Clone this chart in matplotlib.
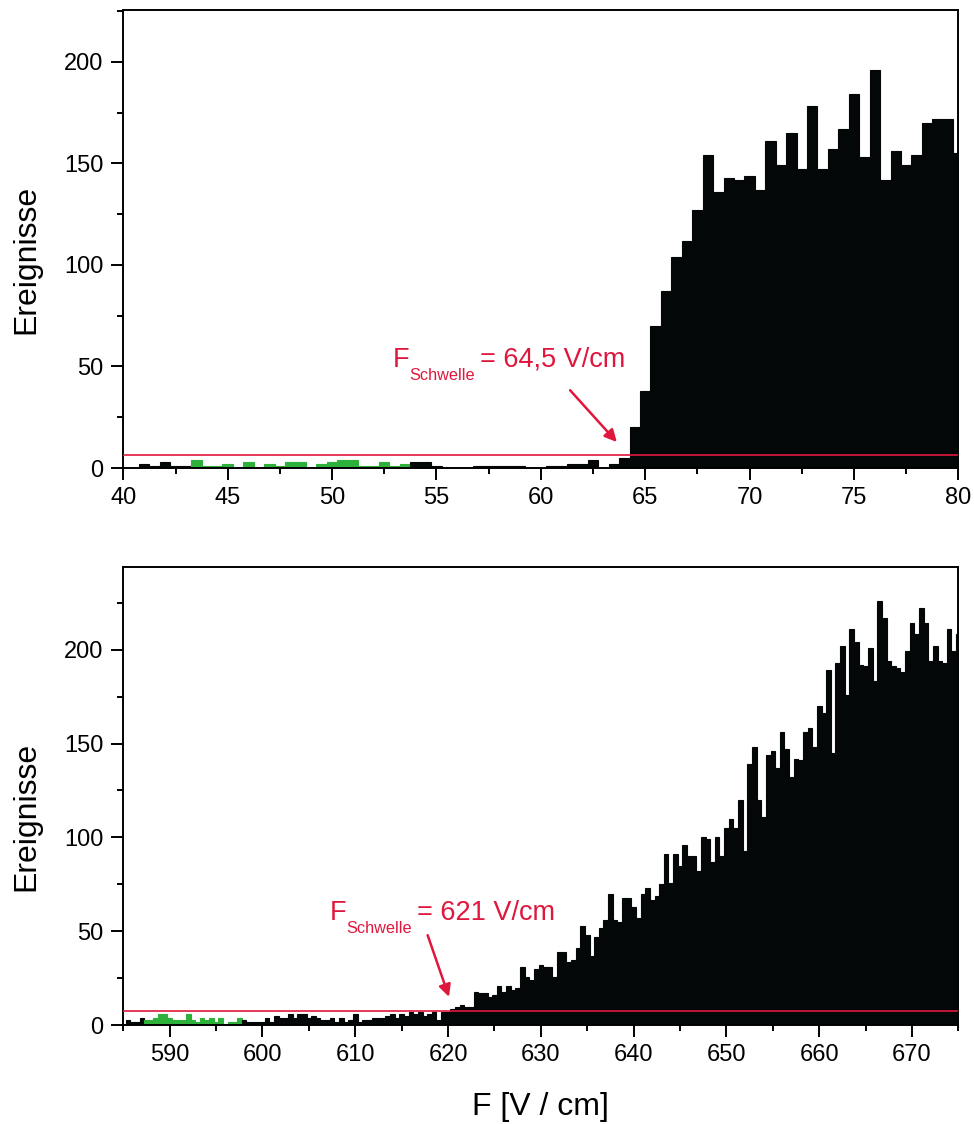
import numpy as np
import matplotlib
matplotlib.use("Agg")
import matplotlib.pyplot as plt
from matplotlib.ticker import MultipleLocator

plt.rcParams["font.family"] = ["Liberation Sans", "DejaVu Sans"]

# upper histogram: bin centres 40.0 ... 80.0 (0.5 V/cm bins)
top_centers = np.arange(40.0, 80.01, 0.5)
top_counts = [
    0, 0, 2, 1, 3, 1, 1, 4, 1, 1,           # 40.0 - 44.5
    2, 0, 3, 0, 2, 1, 3, 3, 0, 2,           # 45.0 - 49.5
    3, 4, 4, 1, 1, 3, 1, 2, 3, 3,           # 50.0 - 54.5
    1, 0, 0, 0, 1, 1, 1, 1, 1, 0,           # 55.0 - 59.5
    0, 1, 1, 2, 2, 4, 0, 2, 5, 20,          # 60.0 - 64.5
    38, 70, 87, 104, 112, 127, 154, 136, 143, 142,   # 65.0 - 69.5
    144, 137, 161, 149, 165, 147, 178, 147, 157, 167,  # 70.0 - 74.5
    184, 153, 196, 142, 156, 149, 154, 170, 172, 172,  # 75.0 - 79.5
    155,                                    # 80.0
]
top_green = (43.5, 53.5)
top_threshold = 6.6
top_value = "= 64,5 V/cm"

# lower histogram: bin centres 585.0 ... 675.0
bot_centers = np.arange(585.0, 675.01, 0.5)
bot_counts = [
    0, 3, 2, 2, 4, 3, 3, 4, 6, 6,           # 585.0 - 589.5
    4, 3, 3, 3, 6, 3, 2, 4, 3, 4,           # 590.0 - 594.5
    2, 4, 1, 2, 2, 4, 3, 2, 2, 2,           # 595.0 - 599.5
    2, 4, 2, 5, 4, 4, 6, 4, 6, 6,           # 600.0 - 604.5
    4, 5, 4, 3, 3, 4, 2, 4, 2, 3,           # 605.0 - 609.5
    6, 2, 3, 3, 4, 4, 4, 5, 6, 4,           # 610.0 - 614.5
    6, 5, 7, 6, 7, 5, 6, 7, 3, 7,           # 615.0 - 619.5
    7, 9, 10, 11, 10, 10, 18, 17, 17, 15,   # 620.0 - 624.5
    16, 21, 18, 21, 19, 20, 31, 26, 24, 30,  # 625.0 - 629.5
    32, 31, 31, 26, 39, 39, 34, 35, 41, 53,  # 630.0 - 634.5
    48, 37, 47, 52, 56, 70, 56, 55, 68, 68,  # 635.0 - 639.5
    63, 57, 70, 73, 67, 69, 75, 91, 76, 91,  # 640.0 - 644.5
    85, 96, 90, 90, 82, 100, 99, 87, 100, 90,  # 645.0 - 649.5
    105, 110, 105, 120, 93, 139, 148, 120, 111, 144,  # 650.0 - 654.5
    146, 137, 156, 147, 132, 142, 141, 156, 158, 148,  # 655.0 - 659.5
    170, 166, 189, 145, 193, 202, 176, 211, 204, 192,  # 660.0 - 664.5
    191, 201, 183, 226, 217, 194, 191, 190, 188, 199,  # 665.0 - 669.5
    214, 208, 222, 214, 194, 202, 194, 193, 211, 199,  # 670.0 - 674.5
    208,                                    # 675.0
]
bot_green = (587.5, 597.5)
bot_threshold = 7.8
bot_value = "= 621 V/cm"

BLACK = "#040708"
GREEN = "#2db13b"
RED = "#e0173d"


def style_axes(ax, xlim, ylim, xmajor, xminor):
    ax.set_xlim(*xlim)
    ax.set_ylim(*ylim)
    ax.xaxis.set_major_locator(MultipleLocator(xmajor))
    ax.xaxis.set_minor_locator(MultipleLocator(xminor))
    ax.yaxis.set_major_locator(MultipleLocator(50))
    ax.yaxis.set_minor_locator(MultipleLocator(25))
    ax.tick_params(which="major", direction="out", length=8.5, width=1.4, labelsize=17, pad=5)
    ax.tick_params(which="minor", direction="out", length=4.5, width=1.4)
    ax.tick_params(axis="y", which="major", pad=6)
    for sp in ax.spines.values():
        sp.set_linewidth(1.4)
    ax.set_ylabel("Ereignisse", fontsize=23)
    ax.yaxis.set_label_coords(-0.098, 0.455)


def draw_hist(ax, centers, counts, green):
    colors = [GREEN if green[0] <= c <= green[1] else BLACK for c in centers]
    ax.bar(centers, counts, width=0.5, color=colors, edgecolor=colors, linewidth=0.8, zorder=2)


def threshold_label(ax, x, y, value):
    # F, lowered subscript, then the value -- placed piece by piece (pixel offsets)
    kw = dict(xycoords="data", textcoords="offset pixels", color=RED, ha="left", va="baseline")
    ax.annotate("F", (x, y), xytext=(0, 0), fontsize=19.5, **kw)
    ax.annotate("Schwelle", (x, y), xytext=(16, -13), fontsize=11.7, **kw)
    ax.annotate(value, (x, y), xytext=(87, 0), fontsize=19.5, **kw)


def threshold_arrow(ax, tip, tail):
    ax.annotate("", xy=tip, xytext=tail,
                arrowprops=dict(arrowstyle="-|>", color=RED, lw=1.8, mutation_scale=18,
                                shrinkA=0, shrinkB=0), zorder=4)


fig = plt.figure(figsize=(9.74, 11.24), dpi=100)
ax1 = fig.add_axes([0.1266, 0.5836, 0.8574, 0.4075])
ax2 = fig.add_axes([0.1266, 0.0877, 0.8574, 0.4080])

# upper panel
draw_hist(ax1, top_centers, top_counts, top_green)
ax1.axhline(top_threshold, color=RED, lw=1.2, zorder=3)
style_axes(ax1, (40, 80), (0, 225.5), 5, 2.5)
threshold_label(ax1, 52.92, 49.75, top_value)
threshold_arrow(ax1, (63.64, 12.8), (61.4, 38.3))

# lower panel
draw_hist(ax2, bot_centers, bot_counts, bot_green)
ax2.axhline(bot_threshold, color=RED, lw=1.2, zorder=3)
style_axes(ax2, (585, 675), (0, 244), 10, 5)
threshold_label(ax2, 607.3, 56.0, bot_value)
threshold_arrow(ax2, (620.1, 15.2), (617.8, 48.0))
ax2.set_xlabel("F [V / cm]", fontsize=23)
ax2.xaxis.set_label_coords(0.5, -0.145)

fig.savefig("out.png", dpi=100)
